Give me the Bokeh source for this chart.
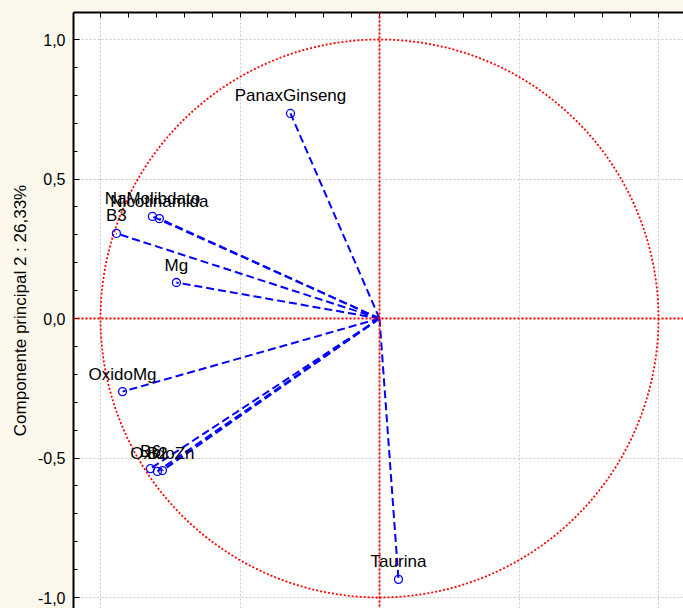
import numpy as np
from bokeh.plotting import figure
from bokeh.models import (ColumnDataSource, FixedTicker, CustomJSTickFormatter,
                          Span, Range1d, LabelSet)
from bokeh.core.properties import value
from bokeh.embed import file_html
from bokeh.resources import INLINE

# ---- data (loadings) ----
names = ["PanaxGinseng", "NaMolibdato", "Nicotinamida", "B3", "Mg",
         "OxidoMg", "B6", "B2", "OxidoZn", "Taurina"]
pc1 = [-0.319, -0.814, -0.789, -0.943, -0.728, -0.921, -0.821, -0.796, -0.778, 0.068]
pc2 = [0.735, 0.366, 0.358, 0.305, 0.129, -0.262, -0.538, -0.548, -0.545, -0.935]
axis_title = "Componente principal 2 : 26,33%"
major_ticks = [-1.0, -0.5, 0.0, 0.5, 1.0]

BG = "#fcf8ec"
FONT = "Liberation Sans"

src = ColumnDataSource(dict(name=names, x=pc1, y=pc2,
                            x0=[0.0] * len(names), y0=[0.0] * len(names)))

p = figure(width=683, height=608, output_backend="svg", toolbar_location=None,
           x_range=Range1d(-1.0968, 1.0896), y_range=Range1d(-1.0394, 1.0968),
           x_axis_location="above", background_fill_color="white",
           border_fill_color=BG, min_border_left=73, min_border_top=12,
           min_border_right=0, min_border_bottom=0)
p.outline_line_color = None

minor = [round(v, 1) for v in np.arange(-1.0, 1.01, 0.1)]
ticker = FixedTicker(ticks=major_ticks, minor_ticks=minor)

# y axis (left)
yax = p.yaxis[0]
yax.ticker = ticker
yax.formatter = CustomJSTickFormatter(code="return tick.toFixed(1).replace('.', ',');")
yax.axis_label = axis_title
yax.axis_label_text_font = FONT
yax.axis_label_text_font_size = "17px"
yax.axis_label_text_font_style = "normal"
yax.axis_label_text_color = "black"
yax.axis_label_standoff = 5
yax.major_label_text_font = FONT
yax.major_label_text_font_size = "16px"
yax.major_label_text_color = "black"
yax.major_label_standoff = 8
yax.axis_line_width = 2
yax.axis_line_color = "black"
yax.major_tick_in = 6
yax.major_tick_out = 0
yax.minor_tick_in = 4
yax.minor_tick_out = 0

# x axis (top) : line + inward ticks only, no labels
xax = p.xaxis[0]
xax.ticker = FixedTicker(ticks=[], minor_ticks=minor)
xax.major_label_standoff = 0
xax.axis_line_width = 2
xax.axis_line_color = "black"
xax.major_tick_in = 0
xax.major_tick_out = 0
xax.minor_tick_in = 5
xax.minor_tick_out = 0

for g in (p.xgrid[0], p.ygrid[0]):
    g.ticker = ticker
    g.grid_line_color = "#c8c8c8"
    g.grid_line_dash = "2 2"
    g.grid_line_width = 1

# unit circle and zero lines
p.circle(x=[0], y=[0], radius=1, fill_color=None, line_color="red",
         line_dash="2 2", line_width=1.8)
p.add_layout(Span(location=0, dimension="height", line_color="red",
                  line_dash="2 2", line_width=2))
p.add_layout(Span(location=0, dimension="width", line_color="red",
                  line_dash="2 2", line_width=2))

# vectors
p.segment(x0="x0", y0="y0", x1="x", y1="y", source=src, line_color="#0000ff",
          line_dash="8 4", line_width=2)
p.scatter(x="x", y="y", source=src, marker="circle", size=8,
          fill_color=None, line_color="#0000ff", line_width=1.3)

labels = LabelSet(x="x", y="y", text="name", source=src, text_align="center",
                  text_baseline="bottom", y_offset=8, text_font=value(FONT),
                  text_font_size="17px", text_color="black")
p.add_layout(labels)

html = file_html(p, INLINE)
html = html.replace("<head>", "<head><style>html,body{background:%s;}</style>" % BG, 1)
open("out.html", "w").write(html)
